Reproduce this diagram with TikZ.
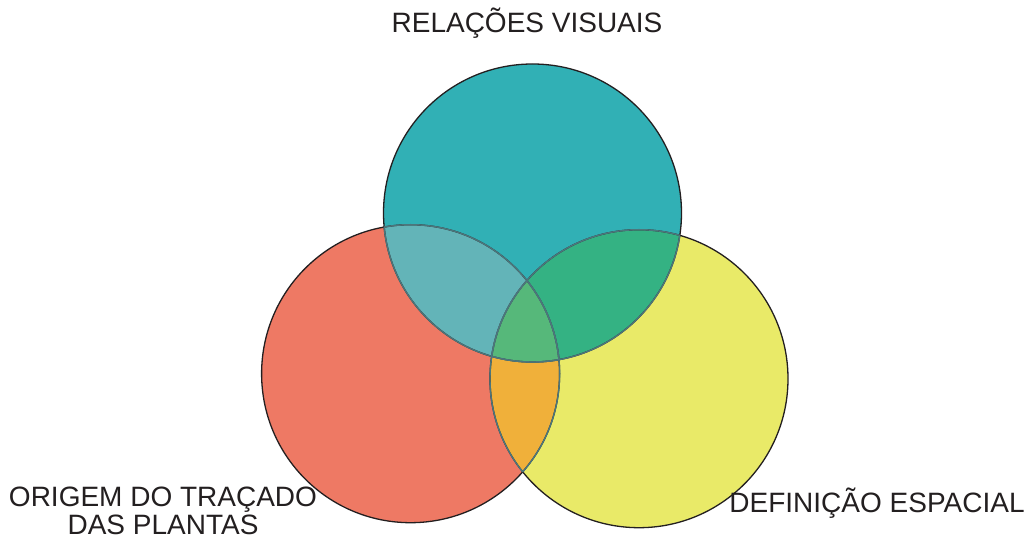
\documentclass[tikz,border=0pt]{standalone}
\usepackage{fontspec}
\setmainfont{Liberation Sans}
\usetikzlibrary{positioning}
\definecolor{cteal}{RGB}{49,176,181}
\definecolor{csalmon}{RGB}{238,121,100}
\definecolor{cyellow}{RGB}{233,234,104}
\definecolor{cts}{RGB}{99,180,184}
\definecolor{cty}{RGB}{52,178,131}
\definecolor{csy}{RGB}{240,176,58}
\definecolor{call}{RGB}{86,184,122}
\definecolor{cline}{RGB}{35,31,32}
\definecolor{cinner}{RGB}{76,118,124}

\begin{document}
\begin{tikzpicture}[line cap=round,line join=round,x=1pt,y=1pt,
  vlabel/.style={font=\fontsize{28}{28}\selectfont,text=cline,inner sep=0pt,anchor=base},
  outer/.style={draw=cline,line width=1.3pt},
  inner/.style={draw=cinner,line width=1.4pt}]
\useasboundingbox (0,0) rectangle (1029,543);
\def\rcirc{149}
\coordinate (rv) at (532.5,330);
\coordinate (ot) at (410.6,169.3);
\coordinate (de) at (639,164.3);
% base discs
\fill[csalmon] (ot) circle (\rcirc);
\fill[cyellow] (de) circle (\rcirc);
\fill[cteal] (rv) circle (\rcirc);
% overlaps
\begin{scope}
\clip (ot) circle (\rcirc);
\fill[csy] (de) circle (\rcirc);
\fill[cts] (rv) circle (\rcirc);
\end{scope}
\begin{scope}
\clip (de) circle (\rcirc);
\fill[cty] (rv) circle (\rcirc);
\end{scope}
\begin{scope}
\clip (ot) circle (\rcirc);
\clip (de) circle (\rcirc);
\fill[call] (rv) circle (\rcirc);
\end{scope}
% outlines
\draw[outer] (ot) circle (\rcirc);
\draw[outer] (de) circle (\rcirc);
\draw[outer] (rv) circle (\rcirc);
\begin{scope}
\clip (rv) circle (\rcirc);
\draw[inner] (ot) circle (\rcirc);
\draw[inner] (de) circle (\rcirc);
\end{scope}
\begin{scope}
\clip (ot) circle (\rcirc);
\draw[inner] (rv) circle (\rcirc);
\draw[inner] (de) circle (\rcirc);
\end{scope}
\begin{scope}
\clip (de) circle (\rcirc);
\draw[inner] (rv) circle (\rcirc);
\draw[inner] (ot) circle (\rcirc);
\end{scope}
% labels
\node[vlabel] (relacoes) at (527,510) {RELAÇÕES VISUAIS};
\node[vlabel,align=center] (origem) at (163,8) {ORIGEM DO TRAÇADO\\DAS PLANTAS};
\node[vlabel] (definicao) at (877,30) {DEFINIÇÃO ESPACIAL};
\end{tikzpicture}
\end{document}
